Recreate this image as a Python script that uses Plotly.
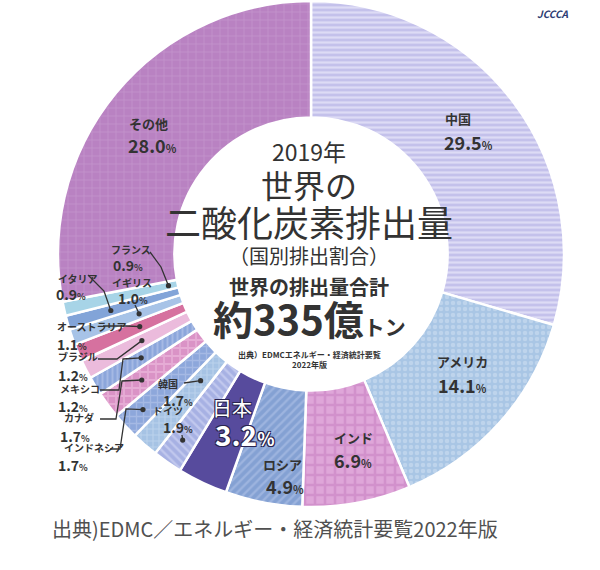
import math
import plotly.graph_objects as go

# ---------------- data ----------------
countries = ["中国", "アメリカ", "インド", "ロシア", "日本", "ドイツ", "韓国",
             "インドネシア", "カナダ", "メキシコ", "ブラジル", "オーストラリア",
             "イギリス", "イタリア", "フランス", "その他"]
shares = [29.5, 14.1, 6.9, 4.9, 3.2, 1.9, 1.7, 1.7, 1.7, 1.2, 1.2, 1.1, 1.0, 0.9, 0.9, 28.0]

title_year = "2019年"
title_main1 = "世界の"
title_main2 = "二酸化炭素排出量"
title_sub = "（国別排出割合）"
total_label = "世界の排出量合計"
total_value = "約335億"
total_unit = "トン"
inner_source1 = "出典）EDMCエネルギー・経済統計要覧"
inner_source2 = "2022年版"
source_text = "出典)EDMC／エネルギー・経済統計要覧2022年版"
logo_text = "JCCCA"

# ---------------- styles ----------------
W, H = 600, 570
CX, CY, R = 311, 254, 253
HOLE = 0.54
FONT = "Noto Sans CJK JP"
DARK = "#333333"

slice_colors = ["#c4c1eb", "#a9c6e5", "#dfa6d9", "#84a1d3", "#574b9d", "#a7b1e3",
                "#a6c3e4", "#8da7db", "#da93c6", "#8ca6db", "#ebbbdc", "#d6719f",
                "#a7c3e7", "#82a4d8", "#a7d4e7", "#b982c2"]
pat_shapes = ["-", ".", "+", "/", "", "\\", "+", "+", "+", "|", "", "", "", "", "", "+"]
pat_fg = ["#dddbf5", "#bed4ec", "#d291cc", "#9db4df", "#574b9d", "#c1c8ee",
          "#bbd2ec", "#a5b9e4", "#e6acd5", "#a5b9e4", "#ebbbdc", "#d6719f",
          "#a7c3e7", "#82a4d8", "#a7d4e7", "#c393cb"]
pat_size = [5, 6, 10, 6, 6, 6, 6, 7, 8, 5, 6, 6, 6, 6, 6, 8]
pat_solid = [0.45, 0.45, 0.45, 0.4, 0.3, 0.4, 0.35, 0.35, 0.4, 0.4, 0.3, 0.3, 0.3, 0.3, 0.3, 0.2]


def px(x):
    return x / W


def py(y):
    return 1 - y / H


fig = go.Figure(go.Pie(
    labels=countries, values=shares, sort=False, direction="clockwise", rotation=0,
    hole=HOLE, textinfo="none", hoverinfo="label+value", showlegend=False,
    marker=dict(colors=slice_colors, line=dict(color="white", width=2.5),
                pattern=dict(shape=pat_shapes, fgcolor=pat_fg, bgcolor=slice_colors,
                             size=pat_size, solidity=pat_solid, fillmode="replace")),
    domain=dict(x=[px(CX - R), px(CX + R)], y=[py(CY + R), py(CY - R)]),
))

# mid angles of slices (degrees clockwise from 12 o'clock), from the data
total = sum(shares)
mid_angle = {}
cum = 0.0
for c, v in zip(countries, shares):
    mid_angle[c] = (cum + v / 2) / total * 360
    cum += v


def polar(c, r):
    t = math.radians(mid_angle[c])
    return CX + r * math.sin(t), CY - r * math.cos(t)


annotations = []


def txt(x, y, s, size, color=DARK, anchor="center", shadow=None):
    f = dict(family=FONT, size=size, color=color)
    if shadow:
        f["shadow"] = shadow
    annotations.append(dict(x=px(x), y=py(y), xref="paper", yref="paper", text=s,
                            showarrow=False, font=f, xanchor=anchor, yanchor="middle"))


def pct(v, small):
    return f"<b>{v:.1f}<span style='font-size:{small}px'>%</span></b>"


share_of = dict(zip(countries, shares))

# big slice labels: (name x, name y, value x, value y)
big_pos = {
    "その他": (148, 123, 152, 145),
    "中国": (458, 119, 468, 142),
    "アメリカ": (462, 361, 462, 385),
    "インド": (353, 438, 353, 460),
    "ロシア": (282, 464, 285, 486),
}
for c, (nx, ny, vx, vy) in big_pos.items():
    txt(nx, ny, f"<b>{c}</b>", 13)
    txt(vx, vy, pct(share_of[c], 11), 18)

outline = "-1px -1px 0 #2a2550, 1px -1px 0 #2a2550, -1px 1px 0 #2a2550, 1px 1px 0 #2a2550"
txt(232, 407, "日本", 20, color="white", shadow=outline)
txt(244, 434, f"<b>{share_of['日本']:.1f}<span style='font-size:18px'>%</span></b>", 28,
    color="white", shadow=outline)

# small slice labels: (name x, name y, value x, value y, anchor)
small_pos = {
    "フランス": (131, 249, 128, 265, "center"),
    "イタリア": (56, 278, 54, 294, "left"),
    "イギリス": (132, 282, 133, 298, "center"),
    "オーストラリア": (55, 326, 55, 344, "left"),
    "ブラジル": (56, 357, 56, 375, "left"),
    "メキシコ": (58, 388, 56, 406, "left"),
    "カナダ": (62, 418, 58, 436, "left"),
    "インドネシア": (62, 447, 56, 465, "left"),
    "韓国": (168, 383, 178, 400, "center"),
    "ドイツ": (168, 410, 178, 427, "center"),
}
for c, (nx, ny, vx, vy, a) in small_pos.items():
    txt(nx, ny, f"<b>{c}</b>", 10, anchor=a)
    txt(vx, vy, pct(share_of[c], 9), 14, anchor=a)

# leader lines: label-side points, then a dot inside the slice at radius r
leaders = {
    "フランス": ([(150, 252), (161, 267)], 146),
    "イタリア": ([(88, 275), (104, 291)], 208),
    "イギリス": ([(135, 305)], 182),
    "オーストラリア": ([(103, 326), (127, 326)], 186),
    "ブラジル": ([(98, 359), (117, 359)], 190),
    "メキシコ": ([(100, 390), (119, 390), (123, 359)], 199),
    "カナダ": ([(100, 419), (116, 419), (122, 381)], 211),
    "インドネシア": ([(110, 449), (120, 449), (126, 409)], 229),
    "韓国": ([(184, 383)], 168),
    "ドイツ": ([(182, 435)], 226),
}
shapes = []
for c, (pts, r) in leaders.items():
    dx, dy = polar(c, r)
    allp = pts + [(dx, dy)]
    path = "M " + " L ".join(f"{px(x):.4f},{py(y):.4f}" for x, y in allp)
    shapes.append(dict(type="path", path=path, xref="paper", yref="paper",
                       line=dict(color=DARK, width=1.3)))
    rr = 2.6
    shapes.append(dict(type="circle", xref="paper", yref="paper",
                       x0=px(dx - rr), x1=px(dx + rr), y0=py(dy + rr), y1=py(dy - rr),
                       fillcolor=DARK, line=dict(width=0)))

# centre texts
txt(309, 151, title_year, 23)
txt(309, 184, title_main1, 32)
txt(309, 221, title_main2, 36)
txt(309, 255, title_sub, 20)
txt(309, 286, f"<b>{total_label}</b>", 20)
txt(309, 318, f"<b>{total_value}<span style='font-size:21px'>{total_unit}</span></b>", 40)
txt(309, 354, f"<b>{inner_source1}</b>", 8)
txt(309, 364, f"<b>{inner_source2}</b>", 8)

# bottom source & logo
txt(275, 528, source_text, 20, color="#505050")
txt(553, 14, f"<b><i>{logo_text}</i></b>", 10, color="#2b3c72")

fig.update_layout(width=W, height=H, margin=dict(l=0, r=0, t=0, b=0),
                  paper_bgcolor="white", plot_bgcolor="white",
                  annotations=annotations, shapes=shapes)

fig.write_html("out.html")
